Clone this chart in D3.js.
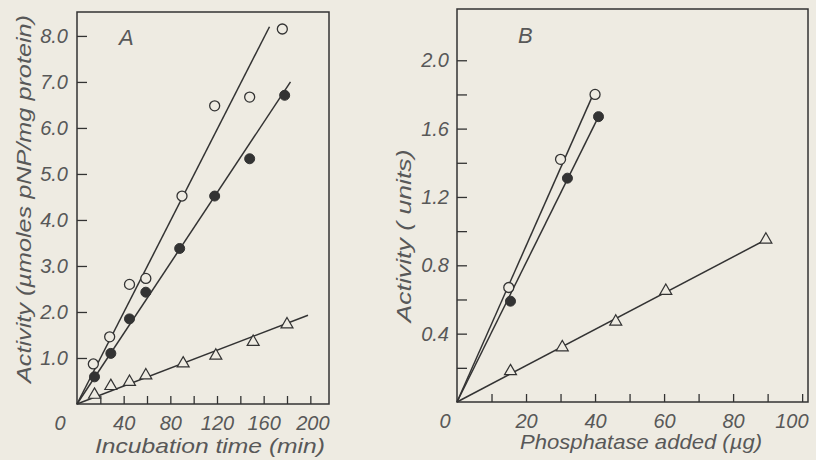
<!DOCTYPE html>
<html>
<head>
<meta charset="utf-8">
<script src="https://d3js.org/d3.v7.min.js"></script>
<style>
  body { margin: 0; background: #eeebe2; }
  svg { display: block; }
  text { font-family: "Liberation Sans", Arial, sans-serif; font-style: italic; fill: #585858; }
</style>
</head>
<body>
<div id="vis"></div>
<script>
const WIDTH = 816, HEIGHT = 460;
const BG = "#eeebe2", INK = "#333";

// panel A: activity vs incubation time (min)
const timeOpen = [14, 28, 45, 59, 90, 118, 148, 176];
const actOpen  = [0.87, 1.46, 2.60, 2.73, 4.52, 6.48, 6.67, 8.15];
const timeFill = [15, 29, 45, 59, 88, 118, 148, 178];
const actFill  = [0.59, 1.10, 1.85, 2.43, 3.38, 4.52, 5.33, 6.71];
const timeTri  = [15, 29, 45, 59, 91, 119, 151, 180];
const actTri   = [0.20, 0.39, 0.48, 0.62, 0.88, 1.05, 1.35, 1.73];
// fitted lines (start, end)
const lineA = [
  {x: [0, 165], y: [0, 8.2]},
  {x: [0, 183], y: [0, 7.0]},
  {x: [0, 198], y: [0, 1.93]}
];
const xTicksA = [20, 40, 60, 80, 100, 120, 140, 160, 180, 200];
const xLabelsA = [40, 80, 120, 160, 200];
const yTicksA = [1, 2, 3, 4, 5, 6, 7, 8];

// panel B: activity vs phosphatase added (ug)
const doseOpen = [15, 30, 40];
const unitOpen = [0.67, 1.42, 1.80];
const doseFill = [15.5, 32, 41];
const unitFill = [0.59, 1.31, 1.67];
const doseTri  = [15.5, 30.5, 46, 60.5, 89.5];
const unitTri  = [0.18, 0.32, 0.47, 0.65, 0.95];
const lineB = [
  {x: [0, 39], y: [0, 1.78]},
  {x: [0, 40.5], y: [0, 1.65]},
  {x: [0, 89.5], y: [0, 0.95]}
];
const xTicksB = [10, 20, 30, 40, 50, 60, 70, 80, 90, 100];
const xLabelsB = [20, 40, 60, 80, 100];
const yTicksB = [0.2, 0.4, 0.6, 0.8, 1.0, 1.2, 1.4, 1.6, 1.8, 2.0];
const yLabelsB = [0.4, 0.8, 1.2, 1.6, 2.0];

const svg = d3.select("#vis").append("svg")
    .attr("width", WIDTH)
    .attr("height", HEIGHT);

svg.append("rect").attr("width", WIDTH).attr("height", HEIGHT).attr("fill", BG);

function panel(opt) {
  const x = d3.scaleLinear().domain(opt.xDomain).range([opt.left, opt.right]);
  const y = d3.scaleLinear().domain(opt.yDomain).range([opt.bottom, opt.top]);

  // frame
  svg.append("rect")
      .attr("x", opt.left).attr("y", opt.top)
      .attr("width", opt.right - opt.left).attr("height", opt.bottom - opt.top)
      .attr("fill", "none").attr("stroke", INK).attr("stroke-width", 1.5);

  // inward ticks
  const gx = svg.append("g")
      .attr("transform", "translate(0," + opt.bottom + ")")
      .call(d3.axisBottom(x).tickValues(opt.xTicks).tickSize(-8).tickFormat(""));
  const gy = svg.append("g")
      .attr("transform", "translate(" + opt.left + ",0)")
      .call(d3.axisLeft(y).tickValues(opt.yTicks).tickSize(-10).tickFormat(""));
  [gx, gy].forEach(g => {
    g.select(".domain").remove();
    g.selectAll("line").attr("stroke", INK).attr("stroke-width", 1.3);
  });

  // tick labels
  const lx = svg.append("g")
      .attr("transform", "translate(0," + opt.bottom + ")")
      .call(d3.axisBottom(x).tickValues(opt.xLabels).tickSize(0).tickPadding(12)
        .tickFormat(d3.format("d")));
  const ly = svg.append("g")
      .attr("transform", "translate(" + opt.left + ",0)")
      .call(d3.axisLeft(y).tickValues(opt.yLabels).tickSize(0).tickPadding(opt.yPad)
        .tickFormat(d3.format(".1f")));
  [lx, ly].forEach(g => {
    g.select(".domain").remove();
    g.selectAll("text").attr("font-size", 20).attr("font-family", null).attr("fill", null);
  });
  // keep the last x label inside the page, ending at the frame edge
  lx.selectAll(".tick:last-of-type text")
      .attr("text-anchor", "end")
      .attr("dx", opt.right - x(opt.xLabels[opt.xLabels.length - 1]));

  // shared origin label
  svg.append("text")
      .attr("x", opt.zeroX).attr("y", opt.bottom + 26)
      .attr("text-anchor", "middle").attr("font-size", 20).text("0");

  // panel letter
  svg.append("text")
      .attr("x", opt.letterX).attr("y", opt.letterY)
      .attr("font-size", 22).text(opt.letter);

  // axis titles
  svg.append("text")
      .attr("x", opt.xTitle[0]).attr("y", opt.xTitle[1])
      .attr("text-anchor", "middle").attr("font-size", 21)
      .attr("textLength", opt.xTitle[2]).attr("lengthAdjust", "spacingAndGlyphs")
      .text(opt.xTitleText);
  svg.append("text")
      .attr("transform", "translate(" + opt.yTitle[0] + "," + opt.yTitle[1] + ") rotate(-90)")
      .attr("text-anchor", "middle").attr("font-size", 21)
      .attr("textLength", opt.yTitle[2]).attr("lengthAdjust", "spacingAndGlyphs")
      .text(opt.yTitleText);

  // fitted lines
  const line = d3.line().x(d => x(d[0])).y(d => y(d[1]));
  opt.lines.forEach(l => {
    svg.append("path")
        .datum(d3.zip(l.x, l.y))
        .attr("d", line)
        .attr("fill", "none").attr("stroke", INK).attr("stroke-width", 1.5);
  });

  // markers
  const tri = d3.symbol().type(d3.symbolTriangle).size(62);
  svg.append("g").selectAll("path")
      .data(d3.zip(opt.tri[0], opt.tri[1]))
      .join("path")
        .attr("transform", d => "translate(" + x(d[0]) + "," + y(d[1]) + ")")
        .attr("d", tri)
        .attr("fill", BG).attr("stroke", INK).attr("stroke-width", 1.2);
  svg.append("g").selectAll("circle")
      .data(d3.zip(opt.open[0], opt.open[1]))
      .join("circle")
        .attr("cx", d => x(d[0])).attr("cy", d => y(d[1])).attr("r", 5)
        .attr("fill", BG).attr("stroke", INK).attr("stroke-width", 1.3);
  svg.append("g").selectAll("circle")
      .data(d3.zip(opt.fill[0], opt.fill[1]))
      .join("circle")
        .attr("cx", d => x(d[0])).attr("cy", d => y(d[1])).attr("r", 5)
        .attr("fill", INK).attr("stroke", INK).attr("stroke-width", 1);
}

panel({
  left: 77, right: 329, top: 12, bottom: 404,
  xDomain: [0, 216], yDomain: [0, 8.52],
  xTicks: xTicksA, xLabels: xLabelsA, yTicks: yTicksA, yLabels: yTicksA, yPad: 9,
  zeroX: 60, letter: "A", letterX: 119, letterY: 45,
  xTitle: [210, 453, 230], xTitleText: "Incubation time (min)",
  yTitle: [31, 199, 368], yTitleText: "Activity (\u00b5moles pNP/mg protein)",
  lines: lineA,
  open: [timeOpen, actOpen], fill: [timeFill, actFill], tri: [timeTri, actTri]
});

panel({
  left: 457, right: 808, top: 9, bottom: 402,
  xDomain: [0, 101.7], yDomain: [0, 2.3],
  xTicks: xTicksB, xLabels: xLabelsB, yTicks: yTicksB, yLabels: yLabelsB, yPad: 8,
  zeroX: 445, letter: "B", letterX: 518, letterY: 43,
  xTitle: [641, 449, 242], xTitleText: "Phosphatase added (\u00b5g)",
  yTitle: [411, 236, 173], yTitleText: "Activity ( units)",
  lines: lineB,
  open: [doseOpen, unitOpen], fill: [doseFill, unitFill], tri: [doseTri, unitTri]
});
</script>
</body>
</html>
